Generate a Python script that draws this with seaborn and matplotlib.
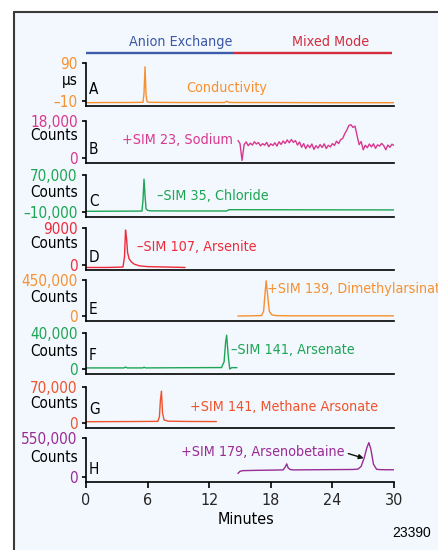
import numpy as np
import pandas as pd
import matplotlib
matplotlib.use('Agg')
import matplotlib.pyplot as plt
import seaborn as sns
from matplotlib.patches import Rectangle
from matplotlib.lines import Line2D
from matplotlib import font_manager

# ---------------- data ----------------
x_ticks = [0, 6, 12, 18, 24, 30]
mode_names = ['Anion Exchange', 'Mixed Mode']
mode_start = [0, 14.4]
mode_end = [14.4, 29.8]

panel_letters = ['A', 'B', 'C', 'D', 'E', 'F', 'G', 'H']
panel_units = ['µs', 'Counts', 'Counts', 'Counts', 'Counts', 'Counts', 'Counts', 'Counts']
trace_names = ['Conductivity', '+SIM 23, Sodium', '\u2013SIM 35, Chloride', '\u2013SIM 107, Arsenite',
               '+SIM 139, Dimethylarsinate', '\u2013SIM 141, Arsenate', '+SIM 141, Methane Arsonate',
               '+SIM 179, Arsenobetaine']
tick_hi = [90, 18000, 70000, 9000, 450000, 40000, 70000, 550000]
tick_lo = [-10, 0, -10000, 0, 0, 0, 0, 0]
tick_hi_labels = ['90', '18,000', '70,000', '9000', '450,000', '40,000', '70,000', '550,000']
tick_lo_labels = ['\u201310', '0', '\u201310,000', '0', '0', '0', '0', '0']

cond_t = [0, 2.0, 4.0, 5.55, 5.65, 5.75, 5.85, 5.95, 6.2, 9.0, 13.5, 13.7, 13.9, 14.2, 18, 24, 30]
cond_v = [-14.5, -14, -14, -13.5, 10, 80, 5, -12, -13.5, -14, -14, -10.5, -13.5, -14, -14, -14.5, -14.5]

sod_t = [14.8, 15.0, 15.2, 15.4, 15.6, 15.8, 16.0, 16.2, 16.4, 16.6, 16.8, 17.0, 17.2, 17.4, 17.6, 17.8,
         18.0, 18.2, 18.4, 18.6, 18.8, 19.0, 19.2, 19.4, 19.6, 19.8, 20.0, 20.2, 20.4, 20.6, 20.8, 21.0,
         21.2, 21.4, 21.6, 21.8, 22.0, 22.2, 22.4, 22.6, 22.8, 23.0, 23.2, 23.4, 23.6, 23.8, 24.0, 24.2,
         24.4, 24.6, 24.8, 25.0, 25.2, 25.4, 25.6, 25.8, 26.0, 26.2, 26.4, 26.6, 26.8, 27.0, 27.2, 27.4,
         27.6, 27.8, 28.0, 28.2, 28.4, 28.6, 28.8, 29.0, 29.2, 29.4, 29.6, 29.8, 30.0]
sod_v = [8500, 7000, -1200, 6500, 7800, 6000, 7200, 6300, 7900, 6800, 7500, 5900, 7000, 6200, 7600, 5500,
         6900, 6100, 7400, 5800, 7900, 6600, 8300, 7100, 8800, 7400, 9000, 7600, 8500, 6300, 7800, 5200,
         7000, 4600, 6400, 5000, 6800, 4200, 6000, 4800, 6500, 5100, 6900, 4600, 6200, 5400, 7000, 6100,
         8200, 7000, 8900, 9500, 11800, 13500, 15800, 16200, 14900, 15500, 11000, 6500, 8000, 4000, 6200, 5000,
         6800, 5400, 6900, 4700, 6400, 5800, 7100, 6000, 4000, 6300, 5200, 6700, 6100]

chl_t = [0, 3, 5.45, 5.55, 5.65, 5.75, 5.85, 6.0, 6.3, 9, 13.7, 13.9, 14.2, 20, 30]
chl_v = [-8500, -8200, -8000, 15000, 61000, 25000, -3000, -6500, -7500, -7800, -7800, -5200, -5000, -5200, -5500]

ars_t = [0, 2, 3.6, 3.75, 3.85, 3.95, 4.05, 4.2, 4.4, 4.7, 5.2, 6, 8, 9.65]
ars_v = [-600, -600, -500, 2000, 8500, 6500, 3000, 1500, 800, 200, -200, -400, -500, -600]

dma_t = [14.8, 16, 17.1, 17.3, 17.45, 17.55, 17.7, 17.85, 18.1, 18.5, 20, 25, 30]
dma_v = [0, 2000, 5000, 60000, 300000, 440000, 250000, 60000, 15000, 5000, 2000, 2000, 2000]

ase_t = [0, 3.7, 3.85, 4.0, 5.55, 5.65, 5.8, 9, 13.2, 13.45, 13.6, 13.7, 13.85, 14.0, 14.2, 14.7]
ase_v = [1200, 1200, 2200, 1200, 1200, 2000, 1200, 1400, 1600, 8000, 30000, 37500, 15000, 0, 1500, 1500]

mma_t = [0, 4, 7.0, 7.15, 7.25, 7.35, 7.45, 7.6, 8.0, 10, 12.7]
mma_v = [2500, 2800, 3200, 12000, 45000, 62000, 20000, 6000, 3500, 3000, 2800]

ab_t = [14.8, 15.0, 15.3, 16, 17, 18, 19.2, 19.4, 19.55, 19.7, 19.9, 20.2, 22, 24, 26, 26.5, 26.8, 27.1,
        27.35, 27.55, 27.75, 28.0, 28.3, 28.6, 29.3, 30]
ab_v = [50000, 80000, 90000, 92000, 95000, 97000, 100000, 140000, 185000, 125000, 105000, 100000, 102000,
        104000, 106000, 112000, 150000, 270000, 410000, 485000, 390000, 180000, 110000, 104000, 102000, 102000]

traces_t = [cond_t, sod_t, chl_t, ars_t, dma_t, ase_t, mma_t, ab_t]
traces_v = [cond_v, sod_v, chl_v, ars_v, dma_v, ase_v, mma_v, ab_v]

# ---------------- style / layout ----------------
colors = ['#f7902f', '#d9378f', '#1ca554', '#ee2b3b', '#f7902f', '#1ea556', '#f0522d', '#9a2b95']
tops = [63, 121, 175, 228, 280, 333, 387, 438]
bots = [106, 163, 217, 270, 321, 374, 428, 482]
name_xy = [(186, 88), (122, 140), (157, 196), (137, 247), (267, 289), (231, 350), (190, 407), (181, 452)]
letter_y = [89, 150, 201, 258, 309, 355, 409, 470]
unit_y = [80, 136, 193, 244, 297, 351, 403, 458]

sns.set_theme(style='white')

# choose a condensed face if one is installed
_fonts = font_manager.fontManager.ttflist
_names = {f.name for f in _fonts}
STRETCH = 'normal'
if 'Liberation Sans Narrow' in _names:
    FAM = ['Liberation Sans Narrow', 'DejaVu Sans']
    FS, NFS = 12.5, 12.5
elif any(f.name == 'DejaVu Sans' and str(f.stretch) in ('condensed', 'semi-condensed', '75', '87') for f in _fonts):
    FAM = ['DejaVu Sans']
    STRETCH = 'condensed'
    FS, NFS = 11, 10.3
else:
    FAM = ['Liberation Sans', 'DejaVu Sans']
    FS, NFS = 11, 10.5

plt.rcParams['font.family'] = FAM
plt.rcParams['font.stretch'] = STRETCH
plt.rcParams['axes.unicode_minus'] = True

W, H = 439, 550
fig = plt.figure(figsize=(W / 100, H / 100), dpi=100, facecolor='white')


def fx(x):
    return x / W


def fy(y):
    return 1 - y / H


fig.patches.append(Rectangle((fx(14), 0), 1 - fx(14), fy(12), transform=fig.transFigure,
                             facecolor='#f2f8fd', edgecolor='none', zorder=-10))
fig.add_artist(Line2D([fx(14), fx(14)], [0, fy(12)], color='#3a3a3a', lw=1.5))
fig.add_artist(Line2D([fx(14), 1], [fy(12), fy(12)], color='#3a3a3a', lw=1.5))

X0, X1 = 86, 394

# header
axh = fig.add_axes([fx(X0), fy(60), (X1 - X0) / W, 30 / H])
axh.set_xlim(0, 30)
axh.set_ylim(0, 1)
axh.axis('off')
hdr_colors = ['#3d5cab', '#d42c3c']
axh.hlines([0.233, 0.233], mode_start, mode_end, colors=hdr_colors, lw=1.7)
fig.text(fx(181), fy(42), mode_names[0], ha='center', va='center', color='#3b57a7', fontsize=NFS)
fig.text(fx(331), fy(42), mode_names[1], ha='center', va='center', color='#d42c3c', fontsize=NFS)

for i in range(8):
    top, bot = tops[i], bots[i]
    ax = fig.add_axes([fx(X0), fy(bot), (X1 - X0) / W, (bot - top) / H])
    ax.set_facecolor('none')
    lo, hi = tick_lo[i], tick_hi[i]
    pad = 5
    hpx = bot - top
    ymin = lo - (hi - lo) * pad / (hpx - pad)
    df = pd.DataFrame({'t': traces_t[i], 'v': traces_v[i]})
    sns.lineplot(data=df, x='t', y='v', ax=ax, color=colors[i], lw=1.0, estimator=None, sort=False)
    ax.set_xlim(0, 30)
    ax.set_ylim(ymin, hi)
    ax.set_xlabel('')
    ax.set_ylabel('')
    ax.set_yticks([lo, hi])
    ax.set_yticklabels([tick_lo_labels[i], tick_hi_labels[i]])
    for lab in ax.get_yticklabels():
        lab.set_color(colors[i])
    ax.tick_params(axis='y', length=3, width=1.2, pad=3, labelsize=FS, direction='out', left=True, color='black')
    for s in ['top', 'right']:
        ax.spines[s].set_visible(False)
    for s in ['left', 'bottom']:
        ax.spines[s].set_color('black')
        ax.spines[s].set_linewidth(1.2)
    if i == 7:
        ax.set_xticks(x_ticks)
        ax.set_xticklabels([str(v) for v in x_ticks])
        ax.tick_params(axis='x', length=4, width=1.2, pad=4, labelsize=FS + 0.5, direction='out', bottom=True,
                       color='black')
        ax.annotate('', xy=(27.05, 265000), xytext=(25.55, 330000),
                    arrowprops=dict(arrowstyle='-|>', color='#111111', lw=1.0, mutation_scale=7,
                                    shrinkA=0, shrinkB=0))
    else:
        ax.set_xticks([])
    fig.text(fx(name_xy[i][0]), fy(name_xy[i][1]), trace_names[i], ha='left', va='center',
             color=colors[i], fontsize=NFS)
    fig.text(fx(89), fy(letter_y[i]), panel_letters[i], ha='left', va='center', color='black', fontsize=FS)
    fig.text(fx(78), fy(unit_y[i]), panel_units[i], ha='right', va='center', color='black', fontsize=FS)

fig.text(fx(246), fy(520), 'Minutes', ha='center', va='center', fontsize=FS + 0.5, color='black')
fig.text(fx(431), fy(533), '23390', ha='right', va='center', fontsize=10, color='black',
         family=['Liberation Sans', 'DejaVu Sans'], stretch='normal')

fig.savefig('out.png', dpi=100, facecolor='white')
